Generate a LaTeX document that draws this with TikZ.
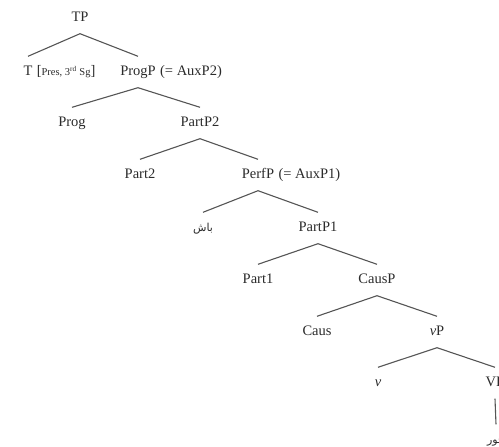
\documentclass[tikz,border=0pt]{standalone}
\usepackage{fontspec}
\setmainfont{Liberation Serif}
\newfontfamily\persianfont[Script=Arabic]{DejaVu Sans}
\TeXXeTstate=1
\usepackage{tikz}
\usetikzlibrary{positioning}
\definecolor{ink}{HTML}{2B2B2B}
\definecolor{branch}{HTML}{555555}

\begin{document}
\begin{tikzpicture}[
  x=1pt, y=-1pt,
  cat/.style={text=ink, font=\fontsize{14.5}{17}\selectfont, text height=9pt,
              text depth=3pt, inner xsep=1pt, inner ysep=9.5pt},
  note/.style={text=ink, font=\fontsize{14.5}{17}\selectfont, inner sep=0pt},
  word/.style={cat, font=\persianfont\fontsize{11}{13}\selectfont},
  edge/.style={draw=branch, line width=1.1pt}
]
\useasboundingbox (0,0) rectangle (499,447);
\node[cat] (tp) at (80,18) {TP};
\node[cat] (t) at (28,72) {T};
\node[note, right=3pt of t.base east, anchor=base west] (tfeat)
  {[{\fontsize{10.5}{12}\selectfont Pres, 3\textsuperscript{rd} Sg}]};
\node[cat] (progp) at (138,72) {ProgP};
\node[note, right=3pt of progp.base east, anchor=base west] (progpx) {(= AuxP2)};
\node[cat] (prog) at (72,123) {Prog};
\node[cat] (partptwo) at (200,123) {PartP2};
\node[cat] (parttwo) at (140,175) {Part2};
\node[cat] (perfp) at (258,175) {PerfP};
\node[note, right=3pt of perfp.base east, anchor=base west] (perfpx) {(= AuxP1)};
\node[word] (bash) at (203,228) {\beginR باش\endR};
\node[cat] (partpone) at (318,228) {PartP1};
\node[cat] (partone) at (258,280) {Part1};
\node[cat] (causp) at (377,280) {CausP};
\node[cat] (caus) at (317,332) {Caus};
\node[cat] (vp) at (437,332) {\textit{v}P};
\node[cat] (v) at (378,383) {\textit{v}};
\node[cat] (bigvp) at (495,383) {VP};
\node[word] (verb) at (496,440) {\beginR خور\endR};

\draw[edge] (tp.south) -- (t.north);
\draw[edge] (tp.south) -- (progp.north);
\draw[edge] (progp.south) -- (prog.north);
\draw[edge] (progp.south) -- (partptwo.north);
\draw[edge] (partptwo.south) -- (parttwo.north);
\draw[edge] (partptwo.south) -- (perfp.north);
\draw[edge] (perfp.south) -- (bash.north);
\draw[edge] (perfp.south) -- (partpone.north);
\draw[edge] (partpone.south) -- (partone.north);
\draw[edge] (partpone.south) -- (causp.north);
\draw[edge] (causp.south) -- (caus.north);
\draw[edge] (causp.south) -- (vp.north);
\draw[edge] (vp.south) -- (v.north);
\draw[edge] (vp.south) -- (bigvp.north);
\draw[edge] (bigvp.south) -- (verb.north);
\end{tikzpicture}
\end{document}
